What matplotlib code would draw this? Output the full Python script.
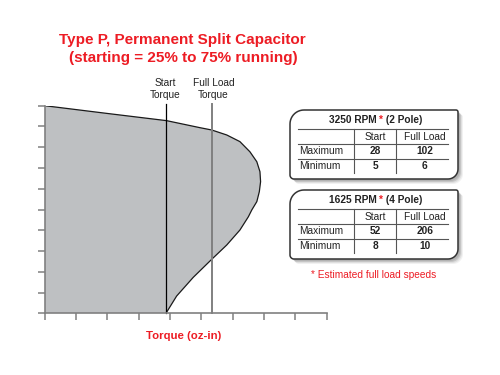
import matplotlib
matplotlib.use("Agg")
import matplotlib.pyplot as plt
import numpy as np
from matplotlib.path import Path
from matplotlib.patches import PathPatch
from matplotlib.lines import Line2D

plt.rcParams['font.family'] = ['Liberation Sans', 'DejaVu Sans']

# ---------------- data ----------------
curve_torque = [0, 1.98, 3.89, 4.96, 5.33, 5.81, 6.23, 6.55, 6.77, 6.87, 6.89,
                6.85, 6.77, 6.61, 6.50, 6.23, 5.81, 5.33, 4.74, 4.21, 3.87]
curve_speed = [10, 9.63, 9.28, 8.94, 8.83, 8.59, 8.27, 7.78, 7.30, 6.82, 6.34,
               5.86, 5.38, 4.98, 4.65, 4.01, 3.29, 2.60, 1.73, 0.83, 0]
start_torque = 3.88
full_load_torque = 5.33
x_ticks = list(range(10))
y_ticks = list(range(11))

title_lines = ["Type P, Permanent Split Capacitor", "(starting = 25% to 75% running)"]
x_label = "Torque (oz-in)"
marker_labels = [["Start", "Torque"], ["Full Load", "Torque"]]

table_rpm = ["3250 RPM", "1625 RPM"]
table_pole = ["(2 Pole)", "(4 Pole)"]
col_headers = ["Start", "Full Load"]
row_labels = ["Maximum", "Minimum"]
table_values = [[[28, 102], [5, 6]], [[52, 206], [8, 10]]]
footnote = "* Estimated full load speeds"

# ---------------- style ----------------
W, H = 500, 375
RED = '#ed1c24'
TXT = '#222222'
GRAY = '#808080'
FILL = '#bec0c2'
FS = 7.3

fig = plt.figure(figsize=(5, 3.75), dpi=100)


def fx(x):
    return x / W


def fy(y):
    return 1 - y / H


ax = fig.add_axes([fx(44.7), fy(313.3), (326.7 - 44.7) / W, (313.3 - 105.7) / H])
ax.set_xlim(0, 9)
ax.set_ylim(0, 10)
ax.fill(list(curve_torque) + [0], list(curve_speed) + [0], color=FILL, lw=0, zorder=1)
ax.plot(curve_torque, curve_speed, color='#1a1a1a', lw=0.9, zorder=3,
        solid_joinstyle='round')
ax.plot([start_torque, start_torque], [0, 10.1], color='black', lw=0.9,
        clip_on=False, zorder=4)
ax.plot([full_load_torque, full_load_torque], [0, 10.1], color=GRAY, lw=1.4,
        clip_on=False, zorder=4)
for s in ['top', 'right']:
    ax.spines[s].set_visible(False)
for s in ['left', 'bottom']:
    ax.spines[s].set_color(GRAY)
    ax.spines[s].set_linewidth(1.2)
    ax.spines[s].set_zorder(5)
ax.set_xticks(x_ticks)
ax.set_yticks(y_ticks)
ax.tick_params(direction='out', length=5, width=1.1, color=GRAY,
               labelbottom=False, labelleft=False)
ax.patch.set_alpha(0)

# titles
fig.text(fx(182.2), fy(40), title_lines[0], color=RED, fontsize=11,
         fontweight='bold', ha='center', va='center')
fig.text(fx(183.8), fy(57.7), title_lines[1], color=RED, fontsize=11,
         fontweight='bold', ha='center', va='center')
fig.text(fx(184), fy(335.7), x_label, color=RED, fontsize=8.2,
         fontweight='bold', ha='center', va='center')

# marker labels
for xc, lines in zip([165.3, 213.6], marker_labels):
    fig.text(fx(xc), fy(82.7), lines[0], color=TXT, fontsize=FS, ha='center', va='center')
    fig.text(fx(xc), fy(95), lines[1], color=TXT, fontsize=FS, ha='center', va='center')


def box_path(x0, y0, x1, y1, r_tl, r_tr, r_br, r_bl, n=12):
    pts = []

    def arc(cx, cy, r, a0, a1):
        for a in np.linspace(a0, a1, n):
            pts.append((cx + r * np.cos(a), cy + r * np.sin(a)))
    arc(x0 + r_tl, y0 + r_tl, r_tl, np.pi, 1.5 * np.pi)
    arc(x1 - r_tr, y0 + r_tr, r_tr, 1.5 * np.pi, 2 * np.pi)
    arc(x1 - r_br, y1 - r_br, r_br, 0, 0.5 * np.pi)
    arc(x0 + r_bl, y1 - r_bl, r_bl, 0.5 * np.pi, np.pi)
    pts.append(pts[0])
    verts = [(fx(px), fy(py)) for px, py in pts]
    codes = [Path.MOVETO] + [Path.LINETO] * (len(verts) - 2) + [Path.CLOSEPOLY]
    return Path(verts, codes)


def hline(x0, x1, y, color='#555555', lw=0.8):
    fig.add_artist(Line2D([fx(x0), fx(x1)], [fy(y), fy(y)], color=color, lw=lw,
                          transform=fig.transFigure))


def vline(x, y0, y1, color='#555555', lw=0.8):
    fig.add_artist(Line2D([fx(x), fx(x)], [fy(y0), fy(y1)], color=color, lw=lw,
                          transform=fig.transFigure))


renderer = fig.canvas.get_renderer()


def header(xc, y, rpm, pole):
    parts = [(rpm + " ", TXT), ("*", RED), (" " + pole, TXT)]
    txts = []
    for s, c in parts:
        t = fig.text(0, fy(y), s, color=c, fontsize=FS, fontweight='bold',
                     ha='left', va='center')
        txts.append(t)
    widths = [t.get_window_extent(renderer).width for t in txts]
    total = sum(widths)
    x = xc - total / 2
    for t, w in zip(txts, widths):
        t.set_x(fx(x))
        x += w


box_tops = [110, 190]
for k in range(2):
    top = box_tops[k]
    bot = top + 69
    x0, x1 = 290, 458
    for off, al in [(5, 0.10), (4, 0.15), (3, 0.25), (2, 0.25)]:
        sh = PathPatch(box_path(x0 + off, top + off, x1 + off, bot + off, 14, 2, 10, 4),
                       transform=fig.transFigure, facecolor='#7a7a7a', edgecolor='none',
                       alpha=al)
        fig.add_artist(sh)
    bx = PathPatch(box_path(x0, top, x1, bot, 14, 2, 10, 4), transform=fig.transFigure,
                   facecolor='white', edgecolor='#333333', lw=1.1)
    fig.add_artist(bx)

    header(375.8, top + 10, table_rpm[k], table_pole[k])
    hline(297.7, 447.7, top + 19)
    hline(297.7, 447.7, top + 34.3)
    hline(297.7, 447.7, top + 49)
    vline(354.3, top + 19, top + 62.5)
    vline(396, top + 19, top + 62.5)
    col_x = [375.5, 424.7]
    for cx, ch in zip(col_x, col_headers):
        fig.text(fx(cx), fy(top + 26.7), ch, color=TXT, fontsize=FS,
                 ha='center', va='center')
    row_y = [top + 40.7, top + 56]
    for ry, rl, vals in zip(row_y, row_labels, table_values[k]):
        fig.text(fx(299), fy(ry), rl, color=TXT, fontsize=FS, ha='left', va='center')
        for cx, v in zip(col_x, vals):
            fig.text(fx(cx), fy(ry), str(v), color=TXT, fontsize=FS,
                     fontweight='bold', ha='center', va='center')

fig.text(fx(373.7), fy(275), footnote, color=RED, fontsize=FS, ha='center', va='center')

fig.savefig("out.png", dpi=100)
